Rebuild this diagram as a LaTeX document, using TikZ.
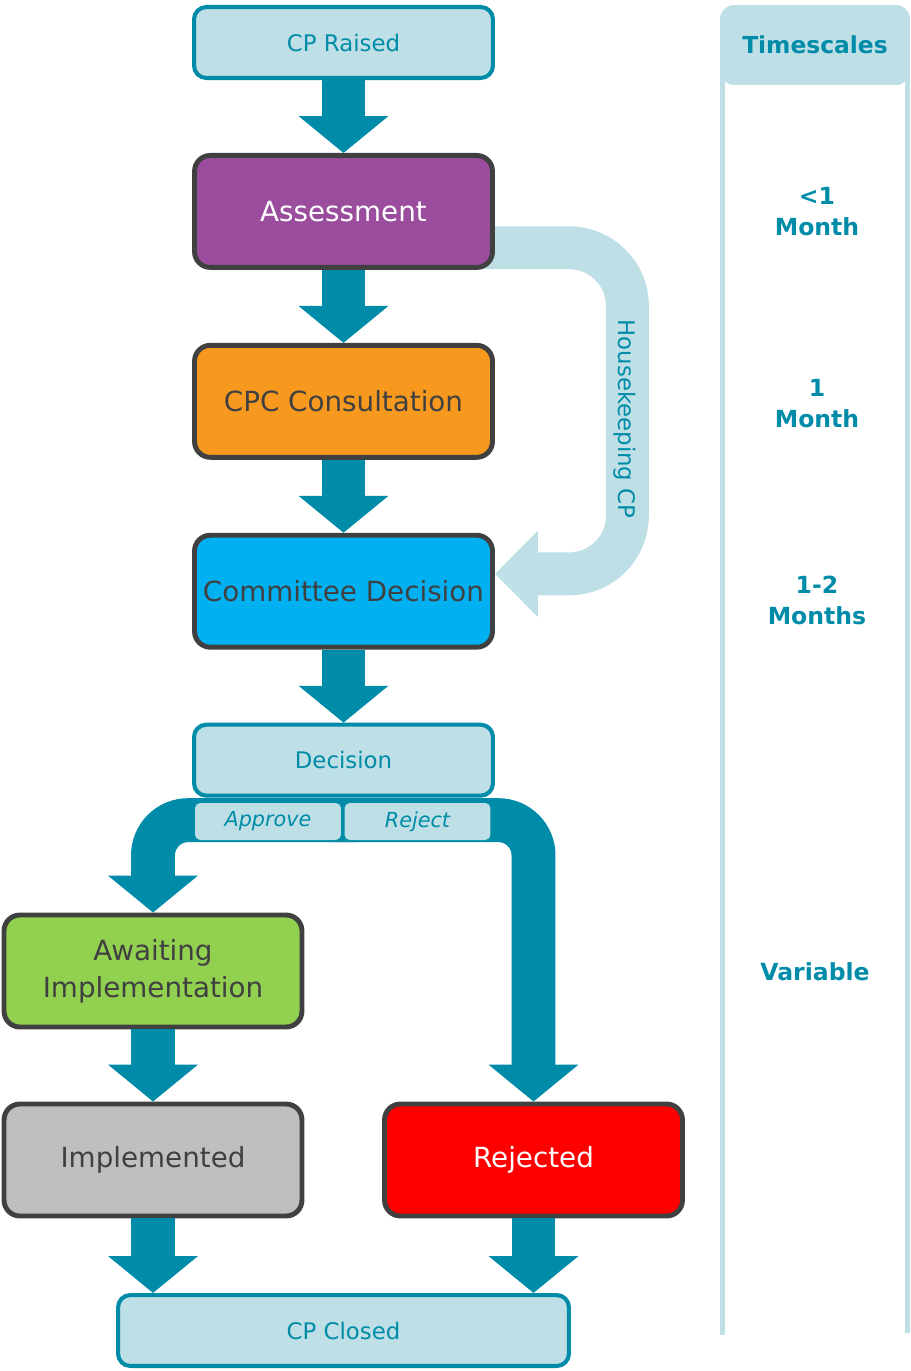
\documentclass[tikz,border=0pt]{standalone}
\usepackage{fontspec}
\setmainfont{DejaVu Sans}
\usepackage{xcolor}
\usepackage{tikz}
\usetikzlibrary{arrows.meta}
\usetikzlibrary{positioning}

\definecolor{cpteal}{HTML}{008CA8}
\definecolor{cplight}{HTML}{BDDFE5}
\definecolor{cpdark}{HTML}{404040}
\definecolor{cppurple}{HTML}{9A4D9D}
\definecolor{cporange}{HTML}{F7991E}
\definecolor{cpcyan}{HTML}{00B0F0}
\definecolor{cpgreen}{HTML}{92D050}
\definecolor{cpgrey}{HTML}{BFBFBF}
\definecolor{cpred}{HTML}{FF0000}

\pgfdeclarelayer{back}
\pgfsetlayers{back,main}

\begin{document}
\begin{tikzpicture}[x=0.02cm,y=-0.02cm,node distance=1.46cm]
  \tikzstyle{endbox}=[draw=cpteal, fill=cplight, line width=2.3pt, rounded corners=7pt, minimum width=5.98cm, minimum height=1.42cm, text=cpteal, font=\fontsize{13pt}{15pt}\selectfont]
  \tikzstyle{stage}=[draw=cpdark, line width=2.8pt, rounded corners=9pt, minimum width=5.96cm, minimum height=2.24cm, text=cpdark, align=center, font=\fontsize{15.8pt}{21pt}\selectfont]
  \tikzstyle{choice}=[fill=cplight, rounded corners=3pt, minimum width=2.92cm, minimum height=0.74cm, text=cpteal, font=\fontsize{11.8pt}{14pt}\selectfont\itshape]
  \tikzstyle{flow}=[color=cpteal, line width=25pt, -{Triangle[length=21pt,width=50pt]}]
  \tikzstyle{hkflow}=[color=cplight, line width=24.4pt, rounded corners=33pt, -{Triangle[length=24.4pt,width=47.6pt]}]
  \tikzstyle{tshead}=[fill=cplight, rounded corners=8pt, minimum width=3.8cm, minimum height=1.6cm, text=cpteal, font=\fontsize{13.3pt}{16pt}\selectfont\bfseries]
  \tikzstyle{tslabel}=[text=cpteal, align=center, font=\fontsize{13.4pt}{17.6pt}\selectfont\bfseries]
  \tikzstyle{tsline}=[draw=cplight, line width=2.8pt]
  \useasboundingbox (0,0) rectangle (910,1371);

  % main column
  \node[endbox] (raised) at (343.5,42.5) {CP Raised};
  \node[stage, fill=cppurple, text=white, below=of raised] (assess) {Assessment};
  \node[stage, fill=cporange, below=of assess] (cpc) {CPC Consultation};
  \node[stage, fill=cpcyan, below=of cpc] (committee) {Committee Decision};
  \node[endbox, below=of committee] (decision) {Decision};
  \node[choice] (approve) at (268,821.5) {Approve};
  \node[choice] (reject) at (417.5,821.5) {Reject};

  % outcomes
  \node[stage, fill=cpgreen] (await) at (153,971) {Awaiting\\Implementation};
  \node[stage, fill=cpgrey] (implemented) at (153,1160) {Implemented};
  \node[stage, fill=cpred, text=white] (rejected) at (533.5,1160) {Rejected};
  \node[endbox, minimum width=9.02cm] (closed) at (343.5,1330.5) {CP Closed};

  \path[flow]
     (raised) edge (assess)
     (assess) edge (cpc)
     (cpc) edge (committee)
     (committee) edge (decision)
     (await) edge (implemented)
     (implemented.south) edge (implemented.south |- closed.north)
     (rejected.south) edge (rejected.south |- closed.north);

  \begin{pgfonlayer}{back}
    \draw[flow, rounded corners=20pt] ([xshift=8pt,yshift=-12.8pt]decision.south) -| (await.north);
    \draw[flow, rounded corners=20pt] ([xshift=-8pt,yshift=-12.8pt]decision.south) -| (rejected.north);
    \draw[hkflow] ([xshift=-10pt,yshift=-20.7pt]assess.east) -- ++(150,0) |- ([yshift=9.9pt]committee.east);
  \end{pgfonlayer}
  \node[text=cpteal, rotate=-90, font=\fontsize{13pt}{15pt}\selectfont] (hklabel) at (625,419) {Housekeeping CP};

  % timescales
  \draw[tsline] (722.5,60) -- (722.5,1335);
  \draw[tsline] (907.5,60) -- (907.5,1333);
  \node[tshead] (tshead) at (815,45) {Timescales};
  \node[tslabel] (ts1) at (817,212) {<1\\Month};
  \node[tslabel] (ts2) at (817,404) {1\\Month};
  \node[tslabel] (ts3) at (817,600) {1-2\\Months};
  \node[tslabel] (ts4) at (815,972) {Variable};
\end{tikzpicture}
\end{document}
